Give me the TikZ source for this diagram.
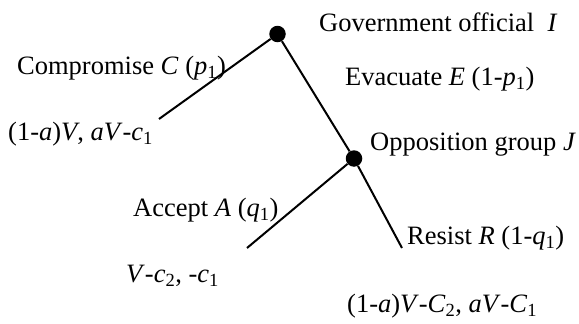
\documentclass[tikz,border=0pt]{standalone}
\usepackage{fontspec}
\setmainfont{Liberation Serif}
\newcommand{\iv}[1]{\textit{#1}}
\newcommand{\sub}[1]{\textsubscript{#1}}
\tikzset{
  dot/.style={circle,fill=black,inner sep=0pt,minimum size=16.5pt},
  lbl/.style={font=\fontsize{26.5}{30}\selectfont,inner sep=0pt},
  branch/.style={line width=2pt}
}
\begin{document}
\begin{tikzpicture}[x=1pt,y=-1pt]
\useasboundingbox (0,0) rectangle (579,324);
\node[dot] (I) at (277.5,34) {};
\node[dot] (J) at (354,158.5) {};
\coordinate (Cend) at (159,119);
\coordinate (Aend) at (247,248);
\coordinate (Rend) at (402,248);
\draw[branch] (I) -- (Cend);
\draw[branch] (I) -- (J);
\draw[branch] (J) -- (Aend);
\draw[branch] (J) -- (Rend);

\node[lbl,anchor=west] (gov) at (319,22) {Government official\ \ \iv{I}};
\node[lbl,anchor=west] (comp) at (17,68) {Compromise \iv{C} (\iv{p}\sub{1})};
\node[lbl,anchor=west] (evac) at (345,79) {Evacuate \iv{E} (1-\iv{p}\sub{1})};
\node[lbl,anchor=west] (payC) at (8,134) {(1-\iv{a})\iv{V}, \iv{aV}-\iv{c}\sub{1}};
\node[lbl,anchor=west] (opp) at (370,145) {Opposition group \iv{J}};
\node[lbl,anchor=west] (acc) at (133,210) {Accept \iv{A} (\iv{q}\sub{1})};
\node[lbl,anchor=west] (res) at (407,238) {Resist \iv{R} (1-\iv{q}\sub{1})};
\node[lbl,anchor=west] (payA) at (126,276) {\iv{V}-\iv{c}\sub{2}, -\iv{c}\sub{1}};
\node[lbl,anchor=west] (payR) at (347,306) {(1-\iv{a})\iv{V}-\iv{C}\sub{2}, \iv{aV}-\iv{C}\sub{1}};
\end{tikzpicture}
\end{document}
